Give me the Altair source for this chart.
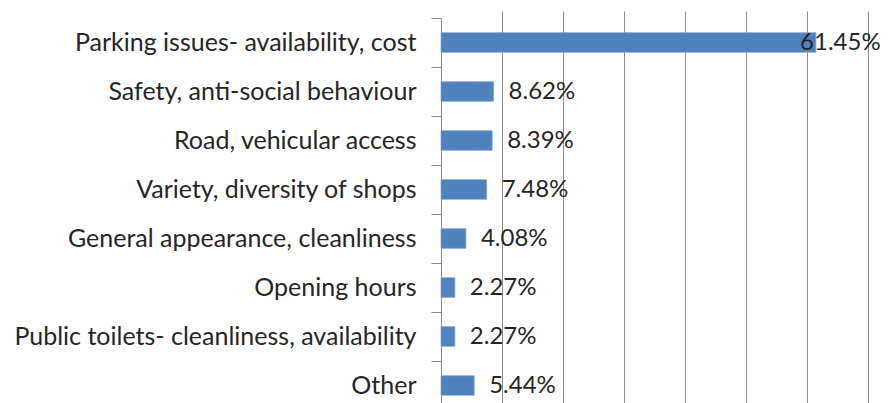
import altair as alt
import pandas as pd

categories = [
    "Parking issues- availability, cost",
    "Safety, anti-social behaviour",
    "Road, vehicular access",
    "Variety, diversity of shops",
    "General appearance, cleanliness",
    "Opening hours",
    "Public toilets- cleanliness, availability",
    "Other",
]
values = [61.45, 8.62, 8.39, 7.48, 4.08, 2.27, 2.27, 5.44]
labels = ["61.45%", "8.62%", "8.39%", "7.48%", "4.08%", "2.27%", "2.27%", "5.44%"]

df = pd.DataFrame({"cat": categories, "value": values, "label": labels})

FONT = "Lato"
TEXT = "#262626"
GRID = "#8c8c8c"

y_enc = alt.Y(
    "cat:N",
    sort=categories,
    title=None,
    scale=alt.Scale(paddingInner=0, paddingOuter=0, range=[0, 392]),
    axis=alt.Axis(
        labelFont=FONT,
        labelFontSize=25,
        labelColor=TEXT,
        labelPadding=15,
        labelLimit=500,
        tickSize=10,
        tickColor=GRID,
        tickBand="extent",
        domainColor=GRID,
        grid=False,
    ),
)

x_enc = alt.X(
    "value:Q",
    title=None,
    scale=alt.Scale(domain=[0, 70], nice=False),
    axis=alt.Axis(
        values=[10, 20, 30, 40, 50, 60, 70],
        labels=False,
        ticks=False,
        domain=False,
        grid=True,
        gridColor=GRID,
        gridWidth=1,
    ),
)

bars = alt.Chart(df).mark_bar(
    color="#4F81BD", stroke="#7FA3CF", strokeWidth=0.8,
    height=alt.RelativeBandSize(band=0.4),
).encode(x=x_enc, y=y_enc)

text = (
    alt.Chart(df)
    .transform_calculate(pos="min(datum.value, 56.4)")
    .mark_text(align="left", baseline="middle", dx=15, font=FONT, fontSize=24, color=TEXT)
    .encode(
        x=alt.X("pos:Q"),
        y=alt.Y("cat:N", sort=categories),
        text="label:N",
    )
)

chart = (
    alt.layer(bars, text)
    .properties(
        width=427,
        height=385,
        autosize=alt.AutoSizeParams(type="none"),
        padding={"left": 433, "top": 10, "right": 14, "bottom": 0},
        background="white",
    )
    .configure_view(stroke=None)
)

chart.save("out.html", embed_options={"renderer": "svg", "actions": False})
